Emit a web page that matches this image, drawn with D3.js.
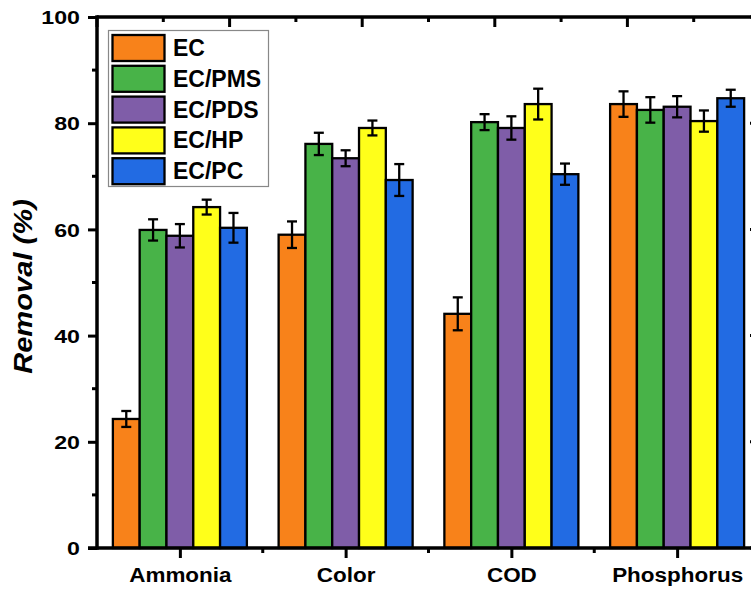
<!DOCTYPE html>
<html><head><meta charset="utf-8">
<script src="https://cdn.jsdelivr.net/npm/d3@7"></script>
<style>
body{margin:0;background:#fff;}
text{font-family:"Liberation Sans",Arial,sans-serif;font-weight:bold;fill:#000;}
</style></head>
<body><svg id="c" width="751" height="592"></svg>
<script>
const categories = ["Ammonia", "Color", "COD", "Phosphorus"];
const seriesNames = ["EC", "EC/PMS", "EC/PDS", "EC/HP", "EC/PC"];
const seriesColors = ["#F8821A", "#48B348", "#7F5DA8", "#FFFF1A", "#226BE3"];
const valEC  = [24.3, 59.0, 44.1, 83.6];
const valPMS = [59.9, 76.1, 80.2, 82.5];
const valPDS = [58.8, 73.4, 79.1, 83.1];
const valHP  = [64.2, 79.1, 83.6, 80.4];
const valPC  = [60.3, 69.3, 70.4, 84.7];
const errEC  = [1.5, 2.5, 3.1, 2.4];
const errPMS = [2.0, 2.1, 1.5, 2.4];
const errPDS = [2.2, 1.5, 2.2, 2.0];
const errHP  = [1.4, 1.4, 2.9, 2.0];
const errPC  = [2.8, 3.0, 2.0, 1.6];
const yTicks = [0, 20, 40, 60, 80, 100];
const yLabel = "Removal (%)";

const values = [valEC, valPMS, valPDS, valHP, valPC];
const errors = [errEC, errPMS, errPDS, errHP, errPC];

const svg = d3.select("#c");
const L = 97, R = 760, T = 17, B = 548;
const x = d3.scaleLinear().domain([0.5, categories.length + 0.5]).range([L, R]);
const y = d3.scaleLinear().domain([0, 100]).range([B, T]);
const xTop = d3.scaleLinear().domain([0, 5]).range([L, R]);
const barW = 0.1617;
const AW = 3.5;

// bars
const g = svg.append("g");
seriesNames.forEach((s, si) => {
  categories.forEach((c, ci) => {
    const cx = (ci + 1) + (si - 2) * barW;
    const x0 = x(cx - barW / 2), x1 = x(cx + barW / 2);
    g.append("rect").attr("x", x0).attr("y", y(values[si][ci]))
      .attr("width", x1 - x0).attr("height", y(0) - y(values[si][ci]))
      .attr("fill", seriesColors[si]).attr("stroke", "#000").attr("stroke-width", 2.3);
  });
});
// error bars
seriesNames.forEach((s, si) => {
  categories.forEach((c, ci) => {
    const cx = x((ci + 1) + (si - 2) * barW);
    const v = values[si][ci], e = errors[si][ci];
    const eg = g.append("g").attr("stroke", "#000").attr("stroke-width", 2.3);
    eg.append("line").attr("x1", cx).attr("x2", cx).attr("y1", y(v + e)).attr("y2", y(v - e));
    eg.append("line").attr("x1", cx - 5).attr("x2", cx + 5).attr("y1", y(v + e)).attr("y2", y(v + e));
    eg.append("line").attr("x1", cx - 5).attr("x2", cx + 5).attr("y1", y(v - e)).attr("y2", y(v - e));
  });
});

// axes
const minorY = d3.range(10, 100, 20);
const ax = svg.append("g");
// left
const left = ax.append("g").attr("transform", `translate(${L},0)`)
  .call(d3.axisLeft(y).tickValues(yTicks).tickSize(9).tickSizeOuter(0).tickFormat(d3.format("d")));
left.select(".domain").remove();
left.selectAll(".tick line").attr("stroke-width", 3);
left.selectAll(".tick text").attr("x", null).attr("dy", null).attr("font-size", 19)
  .attr("dominant-baseline", "central").attr("text-anchor", "end")
  .attr("transform", "translate(-17,0) scale(1.22,1)").style("font-family", null);
left.append("g").selectAll("line").data(minorY).join("line")
  .attr("x1", -5).attr("x2", 0).attr("y1", d => y(d)).attr("y2", d => y(d))
  .attr("stroke", "#000").attr("stroke-width", 3);
// right
ax.append("g").selectAll("line").data(yTicks).join("line")
  .attr("x1", R - 10).attr("x2", R).attr("y1", d => y(d)).attr("y2", d => y(d))
  .attr("stroke", "#000").attr("stroke-width", 3);
ax.append("g").selectAll("line").data(minorY).join("line")
  .attr("x1", R - 5).attr("x2", R).attr("y1", d => y(d)).attr("y2", d => y(d))
  .attr("stroke", "#000").attr("stroke-width", 3);
// bottom
const bottom = ax.append("g").attr("transform", `translate(0,${B})`)
  .call(d3.axisBottom(x).tickValues(d3.range(1, categories.length + 1)).tickSize(10).tickSizeOuter(0)
    .tickFormat(d => categories[d - 1]));
bottom.select(".domain").remove();
bottom.selectAll(".tick line").attr("stroke-width", 3);
bottom.selectAll(".tick text").attr("y", null).attr("dy", null).attr("font-size", 21)
  .attr("transform", "translate(0,34) scale(1.07,1)").style("font-family", null);
bottom.append("g").selectAll("line").data(d3.range(1.5, categories.length, 1)).join("line")
  .attr("x1", d => x(d)).attr("x2", d => x(d)).attr("y1", 0).attr("y2", 5)
  .attr("stroke", "#000").attr("stroke-width", 3);
// top
ax.append("g").selectAll("line").data(d3.range(0, 5.01, 0.5)).join("line")
  .attr("x1", d => xTop(d)).attr("x2", d => xTop(d)).attr("y1", T)
  .attr("y2", d => Number.isInteger(d) ? T + 10 : T + 5)
  .attr("stroke", "#000").attr("stroke-width", 3);
// frame lines
ax.append("line").attr("x1", L).attr("x2", L).attr("y1", T - AW / 2).attr("y2", B + AW / 2).attr("stroke", "#000").attr("stroke-width", AW);
ax.append("line").attr("x1", L - 9).attr("x2", R + 2).attr("y1", B).attr("y2", B).attr("stroke", "#000").attr("stroke-width", AW);
ax.append("line").attr("x1", L).attr("x2", R + 2).attr("y1", T).attr("y2", T).attr("stroke", "#000").attr("stroke-width", AW);
ax.append("line").attr("x1", R).attr("x2", R).attr("y1", T).attr("y2", B).attr("stroke", "#000").attr("stroke-width", AW);

// y label
svg.append("text").attr("transform", `translate(32,${(T + B) / 2 + 4}) rotate(-90) scale(1.12,1)`)
  .attr("text-anchor", "middle").attr("font-size", 26).attr("font-style", "italic").text(yLabel);

// legend
const lg = svg.append("g");
lg.append("rect").attr("x", 108.5).attr("y", 30.5).attr("width", 160).attr("height", 156)
  .attr("fill", "#fff").attr("stroke", "#888").attr("stroke-width", 1.2);
seriesNames.forEach((s, i) => {
  const yy = 35 + i * 30.8;
  lg.append("rect").attr("x", 112.5).attr("y", yy).attr("width", 52).attr("height", 26)
    .attr("fill", seriesColors[i]).attr("stroke", "#000").attr("stroke-width", 2.3);
  lg.append("text").attr("x", 173).attr("y", yy + 13).attr("dominant-baseline", "central")
    .attr("font-size", 23).text(s);
});
</script></body></html>
